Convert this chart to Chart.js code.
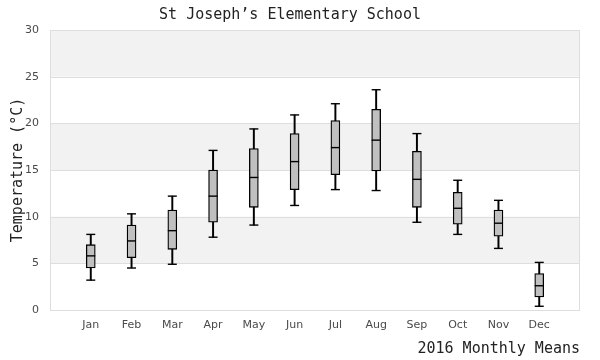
<!DOCTYPE html>
<html>
<head>
<meta charset="utf-8">
<script src="https://cdn.jsdelivr.net/npm/chart.js@4/dist/chart.umd.min.js"></script>
<style>
html, body { margin: 0; padding: 0; background: #fff; }
#wrap { width: 600px; height: 360px; }
</style>
</head>
<body>
<div id="wrap"><canvas id="chart"></canvas></div>
<script>
/*
 * Monthly temperature spread (box plot values).
 */
var months = ['Jan', 'Feb', 'Mar', 'Apr', 'May', 'Jun', 'Jul', 'Aug', 'Sep', 'Oct', 'Nov', 'Dec'];
var whiskerLow  = [3.2, 4.5, 4.9, 7.8, 9.1, 11.2, 12.9, 12.8, 9.4, 8.1, 6.6, 0.4];
var boxLow      = [4.5, 5.6, 6.5, 9.4, 11.0, 12.9, 14.5, 14.9, 11.0, 9.2, 7.9, 1.4];
var medians     = [5.8, 7.4, 8.5, 12.2, 14.2, 15.9, 17.4, 18.2, 14.0, 10.9, 9.3, 2.6];
var boxHigh     = [7.0, 9.1, 10.7, 15.0, 17.3, 18.9, 20.3, 21.5, 17.0, 12.6, 10.7, 3.9];
var whiskerHigh = [8.1, 10.3, 12.2, 17.1, 19.4, 20.9, 22.1, 23.6, 18.9, 13.9, 11.75, 5.1];
var yTicks = [0, 5, 10, 15, 20, 25, 30];
var shadedBands = [[5, 10], [15, 20], [25, 30]];

// empty slot at each end so the months sit one step in from the frame
var labels = [''].concat(months, ['']);
function pad(arr) {
	return [null].concat(arr, [null]);
}
var stems = pad(months.map(function(m, i) { return [whiskerLow[i], whiskerHigh[i]]; }));
var boxes = pad(months.map(function(m, i) { return [boxLow[i], boxHigh[i]]; }));

/*
 * 背景条纹、网格线和外框。
 */
var bandPlugin = {
	id : 'bands',
	beforeDatasetsDraw : function(chart) {
		var ctx = chart.ctx, area = chart.chartArea, y = chart.scales.y;
		ctx.save();
		ctx.fillStyle = '#f2f2f2';
		shadedBands.forEach(function(b) {
			var top = y.getPixelForValue(b[1]);
			var bot = y.getPixelForValue(b[0]);
			ctx.fillRect(area.left, top, area.right - area.left, bot - top);
		});
		ctx.strokeStyle = '#dedede';
		ctx.lineWidth = 1;
		yTicks.forEach(function(v) {
			var py = Math.round(y.getPixelForValue(v)) + 0.5;
			ctx.beginPath();
			ctx.moveTo(area.left, py);
			ctx.lineTo(area.right, py);
			ctx.stroke();
		});
		var x0 = Math.round(area.left) + 0.5, x1 = Math.round(area.right) - 0.5;
		var yTop = Math.round(area.top), yBot = Math.round(area.bottom) + 1;
		ctx.beginPath();
		ctx.moveTo(x0, yTop);
		ctx.lineTo(x0, yBot);
		ctx.moveTo(x1, yTop);
		ctx.lineTo(x1, yBot);
		ctx.stroke();
		ctx.restore();
	}
};

var markStyle = {
	type : 'line',
	showLine : false,
	pointStyle : 'line',
	pointRadius : 4.5,
	pointHoverRadius : 4.5,
	borderColor : '#000',
	pointBorderWidth : 1.4,
	order : 0
};

var config = {
	type : 'bar',
	data : {
		labels : labels,
		datasets : [ {
			label : 'whiskers',
			data : stems,
			backgroundColor : '#000',
			borderWidth : 0,
			barThickness : 1.3,
			grouped : false,
			order : 2
		}, {
			label : 'box',
			data : boxes,
			backgroundColor : '#c0c0c0',
			borderColor : '#000',
			borderWidth : 1.3,
			borderSkipped : false,
			barThickness : 9,
			grouped : false,
			order : 1
		},
		Object.assign({ label : 'median', data : pad(medians) }, markStyle),
		Object.assign({ label : 'max', data : pad(whiskerHigh) }, markStyle),
		Object.assign({ label : 'min', data : pad(whiskerLow) }, markStyle) ]
	},
	options : {
		responsive : true,
		maintainAspectRatio : false,
		animation : false,
		layout : { padding : { left : 0, right : 20, top : 0, bottom : 0 } },
		plugins : {
			legend : { display : false },
			tooltip : { enabled : false },
			title : {
				display : true,
				text : 'St Joseph\u2019s Elementary School',
				color : '#222',
				font : { family : 'DejaVu Sans Mono', size : 15, weight : 'normal' },
				padding : { top : 6, bottom : 6 }
			}
		},
		scales : {
			x : {
				offset : false,
				grid : { display : false, drawTicks : false },
				border : { display : false },
				afterFit : function(scale) {
					scale.height = 50;
				},
				ticks : {
					color : '#4a4a4a',
					font : { family : 'DejaVu Sans', size : 11 },
					padding : 9,
					maxRotation : 0,
					autoSkip : false
				},
				title : {
					display : true,
					text : '2016 Monthly Means',
					align : 'end',
					color : '#222',
					font : { family : 'DejaVu Sans Mono', size : 15, weight : 'normal' },
					padding : { top : 2, bottom : 2 }
				}
			},
			y : {
				min : 0,
				max : 30,
				afterBuildTicks : function(scale) {
					scale.ticks = yTicks.map(function(v) { return { value : v }; });
				},
				afterFit : function(scale) {
					scale.width = 50;
				},
				grid : { display : false, drawTicks : false },
				border : { display : false },
				ticks : {
					color : '#4a4a4a',
					font : { family : 'DejaVu Sans', size : 11 },
					padding : 11
				},
				title : {
					display : true,
					text : 'Temperature (\u00b0C)',
					color : '#222',
					font : { family : 'DejaVu Sans Mono', size : 15, weight : 'normal' },
					padding : { top : 9, bottom : 0 }
				}
			}
		}
	},
	plugins : [ bandPlugin ]
};

window.onload = function() {
	var ctx = document.getElementById('chart').getContext('2d');
	window.boxChart = new Chart(ctx, config);
};
</script>
</body>
</html>
